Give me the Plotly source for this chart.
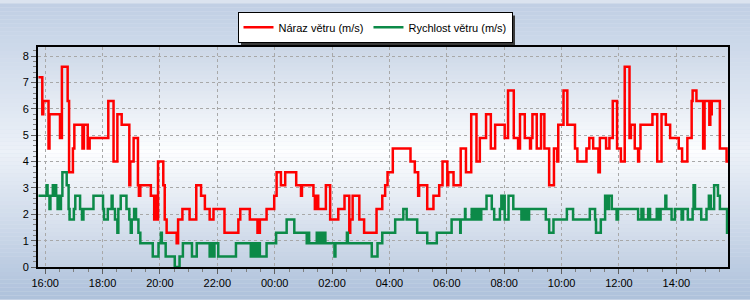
import plotly.graph_objects as go
from datetime import datetime, timedelta

# ---------------- data ----------------
gust_times = ["15:46","15:54","15:56","16:07","16:09","16:31","16:35","16:47","16:50","16:58",
    "17:01","17:18","17:21","17:29","17:33","18:12","18:23","18:31","18:40","18:56",
    "18:58","19:05","19:14","19:16","19:19","19:41","19:48","19:50","19:53","19:56",
    "20:07","20:10","20:14","20:35","20:38","20:47","21:02","21:16","21:26","21:34",
    "21:44","21:52","22:15","22:44","22:48","23:08","23:24","23:29","23:43","23:59",
    "00:04","00:13","00:22","00:45","00:55","00:57","01:21","01:24","01:26","01:31",
    "01:47","01:56","02:13","02:26","02:36","02:38","02:43","02:57","03:07","03:33",
    "03:45","03:51","03:56","04:07","04:44","04:53","05:00","05:02","05:19","05:32",
    "05:44","05:51","06:01","06:03","06:14","06:29","06:40","06:51","07:02","07:09",
    "07:22","07:32","07:41","08:01","08:08","08:20","08:29","08:33","08:43","08:54",
    "08:56","08:59","09:08","09:17","09:24","09:34","09:44","09:51","09:53","10:04",
    "10:12","10:28","10:33","10:52","10:58","11:06","11:17","11:20","11:33","11:40",
    "11:47","11:56","12:04","12:12","12:22","12:25","12:33","12:40","12:42","12:45",
    "13:10","13:20","13:29","13:38","13:47","14:05","14:12","14:23","14:32","14:34",
    "14:42","14:56","14:59","15:09","15:11","15:14","15:31","15:45","15:48"]
gust_values = [7.2,5.8,6.3,4.5,5.8,4.9,7.6,6.3,3.6,4.5,
    5.4,4.5,5.4,4.5,4.9,6.3,4.0,5.8,5.4,3.1,
    4.0,4.9,3.1,2.7,3.1,2.7,1.8,2.7,1.8,4.0,
    3.1,1.8,1.3,0.9,1.8,2.2,1.8,3.1,2.7,2.2,
    1.8,2.2,1.3,1.8,2.2,1.8,1.3,1.8,2.2,2.7,
    3.6,3.1,3.6,3.1,2.7,3.1,2.7,2.2,2.7,2.2,
    3.1,1.8,2.2,2.7,1.3,1.8,2.7,1.8,1.3,2.2,
    2.7,3.1,3.6,4.5,4.0,3.6,2.7,3.1,2.2,2.7,
    3.1,4.0,3.1,3.6,3.1,4.5,3.6,5.8,4.0,4.9,
    5.8,4.5,5.4,4.9,6.7,4.9,4.5,5.8,4.9,4.5,
    4.9,5.8,4.5,5.8,4.5,3.1,4.5,4.0,5.4,6.7,
    5.4,4.5,4.0,4.5,4.9,4.5,3.6,4.9,4.5,4.9,
    6.3,4.5,4.0,7.6,4.9,5.4,4.5,4.0,4.5,5.4,
    5.8,4.0,5.8,5.4,4.9,4.5,4.0,4.9,6.3,6.7,
    6.3,4.5,6.3,5.4,5.8,6.3,4.5,4.0,4.0]

speed_times = ["15:46","16:03","16:05","16:09","16:11","16:16","16:19","16:21","16:23","16:26",
    "16:28","16:31","16:33","16:36","16:45","16:49","16:51","17:00","17:03","17:13",
    "17:17","17:20","17:41","18:01","18:03","18:11","18:19","18:21","18:26","18:31",
    "18:33","18:38","18:50","18:56","18:59","19:01","19:06","19:10","19:15","19:19",
    "19:45","19:57","20:02","20:04","20:12","20:31","20:41","20:48","21:07","21:17",
    "21:44","21:46","21:48","21:50","21:52","21:54","22:02","22:39","23:10","23:12",
    "23:14","23:19","23:24","23:27","23:29","23:43","00:03","00:25","00:41","01:07",
    "01:10","01:12","01:28","01:30","01:33","01:35","01:38","01:40","01:43","01:46",
    "02:05","02:07","02:31","02:33","03:23","03:35","03:45","04:12","04:29","04:36",
    "04:58","05:19","05:39","06:10","06:28","06:29","06:38","06:39","06:52","06:55",
    "06:57","07:00","07:02","07:05","07:07","07:10","07:12","07:23","07:34","07:39",
    "07:51","07:54","07:56","07:58","08:01","08:09","08:19","08:36","08:38","08:40",
    "08:42","08:45","08:47","08:50","08:52","09:27","09:34","09:43","10:11","10:24",
    "10:59","11:10","11:12","11:22","11:31","11:33","11:35","11:37","11:39","11:45",
    "11:55","11:58","12:40","12:47","12:51","13:01","13:05","13:19","13:22","13:27",
    "13:37","13:39","13:50","13:57","14:11","14:14","14:24","14:34","14:36","14:39",
    "14:52","15:03","15:08","15:12","15:19","15:27","15:31","15:46","15:48"]
speed_values = [2.7,3.1,2.7,2.2,2.7,3.1,2.7,3.1,2.7,2.2,
    2.7,2.2,2.7,3.6,3.1,2.2,1.8,2.2,2.7,2.2,
    1.8,2.2,2.7,2.2,1.8,2.2,2.7,2.2,1.8,1.3,
    2.2,2.7,2.2,1.8,1.3,1.8,2.2,1.8,1.3,0.9,
    0.4,0.9,1.3,0.9,0.4,0.0,0.4,0.9,0.4,0.9,
    0.4,0.9,0.4,0.9,0.4,0.9,0.4,0.9,0.4,0.9,
    0.4,0.9,0.4,0.9,0.4,0.9,1.3,1.8,1.3,0.9,
    1.3,0.9,1.3,0.9,1.3,0.9,1.3,0.9,1.3,0.9,
    0.4,0.9,1.3,0.9,0.4,0.9,1.3,1.8,2.2,1.8,
    1.3,0.9,1.3,1.8,1.3,1.8,2.2,1.8,2.2,1.8,
    2.2,1.8,2.2,1.8,2.2,1.8,2.2,2.7,2.2,1.8,
    2.2,2.7,2.2,2.7,1.8,2.7,2.2,1.8,2.2,1.8,
    2.2,1.8,2.2,1.8,2.2,1.8,1.3,1.8,2.2,1.8,
    2.2,1.8,1.3,1.8,2.7,2.2,2.7,2.2,2.7,2.2,
    1.8,2.2,1.8,2.2,1.8,2.2,1.8,2.2,1.8,2.2,
    2.7,2.2,1.8,2.2,1.8,2.2,1.8,2.2,3.1,2.2,
    1.8,2.2,2.7,2.2,3.1,2.7,2.2,1.3,1.3]

series_names = ["Náraz větru (m/s)", "Rychlost větru (m/s)"]
tick_start = "2024-05-01 16:00"
x_start = "2024-05-01 15:45"
x_end = "2024-05-02 15:48"


def to_datetimes(times, day0="2024-05-01"):
    base = datetime.strptime(day0, "%Y-%m-%d")
    out, day, prev = [], 0, None
    for t in times:
        h, m = map(int, t.split(":"))
        if prev is not None and (h, m) < prev:
            day += 1
        prev = (h, m)
        out.append(base + timedelta(days=day, hours=h, minutes=m))
    return out


fig = go.Figure()
fig.add_trace(go.Scatter(x=to_datetimes(gust_times), y=gust_values, mode="lines",
                         line=dict(color="#ff0000", width=2.5, shape="hv"),
                         name=series_names[0]))
fig.add_trace(go.Scatter(x=to_datetimes(speed_times), y=speed_values, mode="lines",
                         line=dict(color="#0c8a48", width=2.5, shape="hv"),
                         name=series_names[1]))

# ---------------- background gradients (styling) ----------------
L, R, T, B = 38, 22, 44, 33
W, H = 750, 300
pw, ph = W - L - R, H - T - B


def px_x(px):
    return (px - L) / pw


def px_y(py):
    return (H - B - py) / ph


def lerp(c1, c2, f):
    return tuple(round(a + (b - a) * f) for a, b in zip(c1, c2))


def grad(stops, py):
    for (p0, c0), (p1, c1) in zip(stops, stops[1:]):
        if p0 <= py <= p1:
            return lerp(c0, c1, (py - p0) / (p1 - p0) if p1 > p0 else 0)
    return stops[-1][1]


shapes = []
outer = [(0, (192, 207, 228)), (150, (236, 241, 248)), (300, (174, 193, 219))]
step = 4
for py in range(0, H, step):
    c = grad(outer, py + step / 2)
    shapes.append(dict(type="rect", xref="paper", yref="paper", layer="below",
                       x0=px_x(0), x1=px_x(W), y0=px_y(py + step), y1=px_y(py),
                       fillcolor="rgb(%d,%d,%d)" % c, line=dict(width=0)))
inner = [(T, (204, 215, 231)), (150, (253, 254, 255)), (H - B, (194, 208, 227))]
for py in range(T, H - B, step):
    c = grad(inner, py + step / 2)
    shapes.append(dict(type="rect", xref="paper", yref="paper", layer="below",
                       x0=0, x1=1, y0=px_y(min(py + step, H - B)), y1=px_y(py),
                       fillcolor="rgb(%d,%d,%d)" % c, line=dict(width=0)))
# legend drop shadow
shapes.append(dict(type="rect", xref="paper", yref="paper", layer="below",
                   x0=px_x(241), x1=px_x(515), y0=px_y(42), y1=px_y(12),
                   fillcolor="#3a3a3a", line=dict(width=0)))

font = dict(family="Liberation Sans, Arial, sans-serif", size=11, color="black")

fig.update_layout(
    width=W, height=H,
    margin=dict(l=L, r=R, t=T, b=B, pad=0),
    paper_bgcolor="#dbe3ef", plot_bgcolor="rgba(0,0,0,0)",
    font=font,
    shapes=shapes,
    showlegend=True,
    legend=dict(orientation="h", x=px_x(375), xanchor="center", y=px_y(24), yanchor="middle",
                bgcolor="white", bordercolor="black", borderwidth=1, font=font,
                itemwidth=30, tracegroupgap=0),
    xaxis=dict(type="date", range=[x_start, x_end], tick0=tick_start, dtick=7200000,
               tickformat="%H:%M", showgrid=True, gridcolor="#a8a8a8", griddash="dot",
               gridwidth=1, showline=True, linecolor="black", linewidth=2, mirror=True,
               ticks="outside", ticklen=5, tickcolor="#606060", tickfont=font,
               minor=dict(dtick=1800000, ticks="outside", ticklen=3, tickcolor="#808080",
                          showgrid=False),
               zeroline=False, fixedrange=True),
    yaxis=dict(range=[0, 8.35], dtick=1, tick0=0, showgrid=True, gridcolor="#a8a8a8",
               griddash="dot", gridwidth=1, showline=True, linecolor="black", linewidth=2,
               mirror=True, ticks="outside", ticklen=5, tickcolor="#606060", tickfont=font,
               minor=dict(dtick=0.2, ticks="outside", ticklen=3, tickcolor="#808080",
                          showgrid=False),
               zeroline=False, fixedrange=True),
)

fig.write_html("out.html")
